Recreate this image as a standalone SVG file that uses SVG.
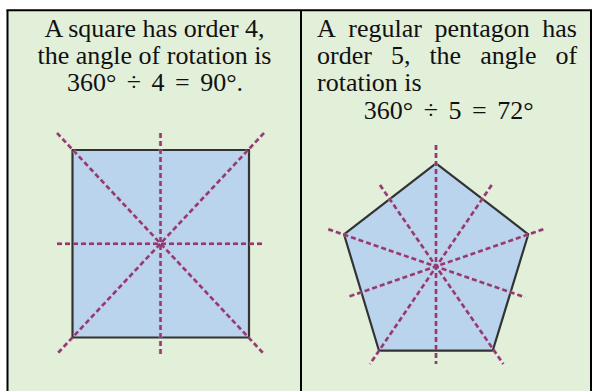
<svg xmlns="http://www.w3.org/2000/svg" width="592" height="391" viewBox="0 0 592 391">
<style>
.txt{font-family:"Liberation Serif","Times New Roman",serif;font-size:26px;fill:#111;}
.math{font-family:"Liberation Serif","Times New Roman",serif;font-size:26px;fill:#111;word-spacing:4px;}
.border{stroke:#000;stroke-width:2;fill:none;}
.shape{fill:#b9d4ec;stroke:#333;stroke-width:2.2;stroke-linejoin:round;}
.axis{stroke:#8f3a70;stroke-width:2.5;stroke-dasharray:5 3;fill:none;}
.halo{stroke:#e3a9c8;stroke-width:4;stroke-dasharray:5 3;fill:none;opacity:0.45;}
</style>
<rect x="0" y="0" width="592" height="391" fill="#ffffff"/>
<rect x="7" y="10" width="585" height="381" fill="#e2efd9"/>
<g id="table-borders">
<line class="border" x1="6.5" y1="10.3" x2="592" y2="10.3"/>
<line class="border" x1="7.5" y1="10" x2="7.5" y2="391"/>
<line class="border" x1="301" y1="10" x2="301" y2="391"/>
<line class="border" x1="591" y1="10" x2="591" y2="391"/>
</g>
<g id="left-text">
<text class="txt" x="154.5" y="37" text-anchor="middle">A square has order 4,</text>
<text class="txt" x="154.5" y="64" text-anchor="middle">the angle of rotation is</text>
<text class="math" x="155" y="91" text-anchor="middle">360° ÷ 4 = 90°.</text>
</g>
<g id="right-text">
<text class="txt" y="37"><tspan x="317">A</tspan><tspan x="348.3">regular</tspan><tspan x="434.4">pentagon</tspan><tspan x="542.2">has</tspan></text>
<text class="txt" y="64"><tspan x="317">order</tspan><tspan x="390.9">5,</tspan><tspan x="429.4">the</tspan><tspan x="480.2">angle</tspan><tspan x="555.5">of</tspan></text>
<text class="txt" x="317" y="91">rotation is</text>
<text class="math" x="448.7" y="119" text-anchor="middle">360° ÷ 5 = 72°</text>
</g>
<g id="square">
<rect class="shape" x="72.5" y="150" width="176.5" height="187.5"/>
</g>
<g id="pentagon">
<polygon class="shape" points="436,163.3 528.3,234.3 492.7,350.7 379,350.7 344,234.3"/>
</g>
<g id="connectors">
<g id="square-axes">
<line class="halo" x1="160.5" y1="133" x2="160.5" y2="355"/>
<line class="halo" x1="57" y1="243.7" x2="264" y2="243.7"/>
<line class="halo" x1="57" y1="133" x2="264" y2="354"/>
<line class="halo" x1="264" y1="133" x2="57" y2="354"/>
<line class="axis" x1="160.5" y1="133" x2="160.5" y2="355"/>
<line class="axis" x1="57" y1="243.7" x2="264" y2="243.7"/>
<line class="axis" x1="57" y1="133" x2="264" y2="354"/>
<line class="axis" x1="264" y1="133" x2="57" y2="354"/>
</g>
<g id="pentagon-axes">
<line class="halo" x1="436" y1="145" x2="436" y2="364"/>
<line class="halo" x1="380" y1="185" x2="503.3" y2="364"/>
<line class="halo" x1="491.7" y1="185" x2="370" y2="364"/>
<line class="halo" x1="328.3" y1="229.3" x2="525" y2="297.3"/>
<line class="halo" x1="543.3" y1="229.3" x2="346.7" y2="297.3"/>
<line class="axis" x1="436" y1="145" x2="436" y2="364"/>
<line class="axis" x1="380" y1="185" x2="503.3" y2="364"/>
<line class="axis" x1="491.7" y1="185" x2="370" y2="364"/>
<line class="axis" x1="328.3" y1="229.3" x2="525" y2="297.3"/>
<line class="axis" x1="543.3" y1="229.3" x2="346.7" y2="297.3"/>
</g>
</g>
</svg>
